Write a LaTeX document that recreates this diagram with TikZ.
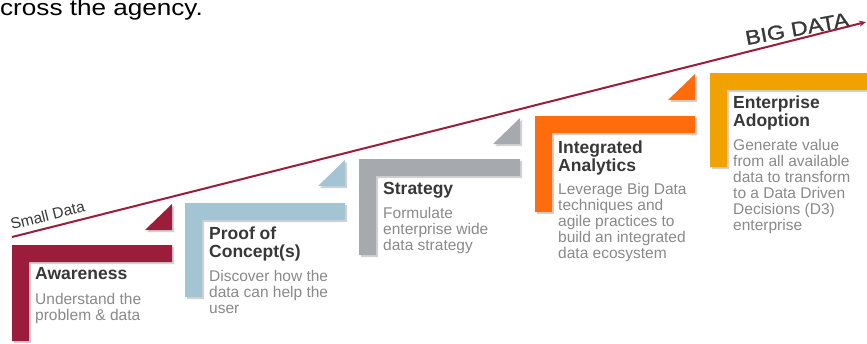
\documentclass[tikz,border=0pt]{standalone}
\usepackage{fontspec}
\setmainfont{Liberation Sans}
\newfontfamily\widefont{Liberation Sans}[FakeStretch=1.16]
\newfontfamily\bigfont{Liberation Sans}[FakeStretch=1.16, FakeBold=1.2]
\usetikzlibrary{arrows.meta}
\definecolor{cA}{HTML}{9C1C3B}
\definecolor{cB}{HTML}{A3C5D3}
\definecolor{cC}{HTML}{A6AAAE}
\definecolor{cD}{HTML}{FF6C0C}
\definecolor{cE}{HTML}{F0A200}
\definecolor{ttl}{HTML}{383838}
\definecolor{dsc}{HTML}{8A8A8A}
\definecolor{lineC}{HTML}{9C1C3B}
\tikzset{
  ttlstyle/.style={anchor=north west, align=left, inner sep=0pt, text=ttl, font=\fontsize{17.5}{18.5}\selectfont\bfseries},
  dscstyle/.style={anchor=north west, align=left, inner sep=0pt, text=dsc, font=\fontsize{15.5}{16}\selectfont},
  shadowfill/.style={fill=black, opacity=0.18},
}
\newcommand{\bracketshape}[5]{% L T R B color
  \fill[shadowfill] (#1+2,#2+2) -- (#3+2,#2+2) -- (#3+2,#2+19) -- (#1+19,#2+19) -- (#1+19,#4+2) -- (#1+2,#4+2) -- cycle;
  \fill[#5] (#1,#2) -- (#3,#2) -- (#3,#2+17) -- (#1+17,#2+17) -- (#1+17,#4) -- (#1,#4) -- cycle;
}
\newcommand{\stepwedge}[3]{% R Ttop color
  \fill[shadowfill] (#1+2,#2+2) -- (#1+2,#2+28) -- (#1-25,#2+28) -- cycle;
  \fill[#3] (#1,#2) -- (#1,#2+26) -- (#1-27,#2+26) -- cycle;
}
\begin{document}
\begin{tikzpicture}[x=1pt,y=-1pt]
\useasboundingbox (0,0) rectangle (867,343);
\fill[white] (0,0) rectangle (867,343);

\node[anchor=base west, inner sep=0pt, font=\widefont\fontsize{22.5}{24}\selectfont] (top) at (0,15.7) {cross the agency.};

% brackets
\bracketshape{12}{245}{172}{341}{cA}
\bracketshape{185}{203}{345}{297}{cB}
\bracketshape{359}{159}{520}{255}{cC}
\bracketshape{535}{116}{695}{212}{cD}
\bracketshape{710}{73}{870}{167}{cE}

% wedges
\stepwedge{172}{204}{cA}
\stepwedge{345}{160}{cB}
\stepwedge{520}{118}{cC}
\stepwedge{695}{74}{cD}

% arrow
\coordinate (sd) at (12,237);
\coordinate (bd) at (866,22);
\draw[lineC, line width=2pt, -{Stealth[length=7pt,width=6pt]}] (sd) -- (bd);
\node[anchor=base west, inner sep=0pt, rotate=14, font=\fontsize{15.5}{16}\selectfont, text=ttl] (small) at (12,230) {Small Data};
\node[anchor=base east, inner sep=0pt, rotate=10.5, font=\bigfont\fontsize{20}{21}\selectfont, text=ttl] (big) at (850,26) {BIG DATA};

% texts
\node[ttlstyle] (t1) at (35,280-12.5) {Awareness};
\node[dscstyle] (d1) at (35,304-11.2) {Understand the\\problem \& data};

\node[ttlstyle] (t2) at (209,239-12.5) {Proof of\\Concept(s)};
\node[dscstyle] (d2) at (209,281-11.2) {Discover how the\\data can help the\\user};

\node[ttlstyle] (t3) at (383,195-12.5) {Strategy};
\node[dscstyle] (d3) at (383,218-11.2) {Formulate\\enterprise wide\\data strategy};

\node[ttlstyle] (t4) at (558,153-12.5) {Integrated\\Analytics};
\node[dscstyle] (d4) at (558,194-11.2) {Leverage Big Data\\techniques and\\agile practices to\\build an integrated\\data ecosystem};

\node[ttlstyle] (t5) at (733,108-12.5) {Enterprise\\Adoption};
\node[dscstyle] (d5) at (733,150-11.2) {Generate value\\from all available\\data to transform\\to a Data Driven\\Decisions (D3)\\enterprise};
\end{tikzpicture}
\end{document}
